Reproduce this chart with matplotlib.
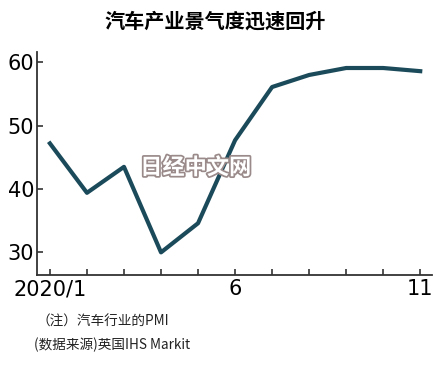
import matplotlib.pyplot as plt
import matplotlib.patheffects as pe

plt.rcParams['font.family'] = ['Noto Sans CJK SC', 'DejaVu Sans']

# 汽车行业PMI, 2020年1月~11月
months = [1, 2, 3, 4, 5, 6, 7, 8, 9, 10, 11]
pmi = [47.2, 39.4, 43.5, 30.0, 34.6, 47.7, 56.1, 58.0, 59.1, 59.1, 58.6]
yticks = [30, 40, 50, 60]
xlabels = {1: '2020/1', 6: '6', 11: '11'}

fig = plt.figure(figsize=(4.4, 3.78), dpi=100)
ax = fig.add_axes([0.084, 0.272, 0.898, 0.59])

ax.plot(months, pmi, color='#1b4a5a', lw=3.0, zorder=3)

ax.set_xlim(0.65, 11.32)
ax.set_ylim(26.4, 61.6)
ax.set_yticks(yticks)
ax.set_xticks(months)
ax.set_xticklabels([xlabels.get(m, '') for m in months])

for lab in ax.get_xticklabels() + ax.get_yticklabels():
    lab.set_family(['Liberation Sans Narrow', 'DejaVu Sans'])
    lab.set_fontsize(15)
ax.tick_params(direction='in', length=4, width=1.2, color='#333333', pad=3)
ax.tick_params(axis='y', pad=2)

for s in ['top', 'right']:
    ax.spines[s].set_visible(False)
for s in ['left', 'bottom']:
    ax.spines[s].set_color('#333333')
    ax.spines[s].set_linewidth(1.3)

fig.text(0.488, 0.945, '汽车产业景气度迅速回升', ha='center', va='center',
         fontsize=14.5, fontweight='bold')

# watermark
wm = fig.text(0.445, 0.556, '日经中文网', ha='center', va='center', fontsize=16,
              fontweight='bold', color='white', zorder=5)
wm.set_path_effects([pe.withStroke(linewidth=2.5, foreground='#9a8a8a')])

fig.text(0.083, 0.148, '（注）汽车行业的PMI', ha='left', va='center', fontsize=9.8,
         color='#222222')
fig.text(0.078, 0.087, '(数据来源)英国IHS Markit', ha='left', va='center',
         fontsize=9.8, color='#222222')

fig.savefig('out.png', dpi=100)
